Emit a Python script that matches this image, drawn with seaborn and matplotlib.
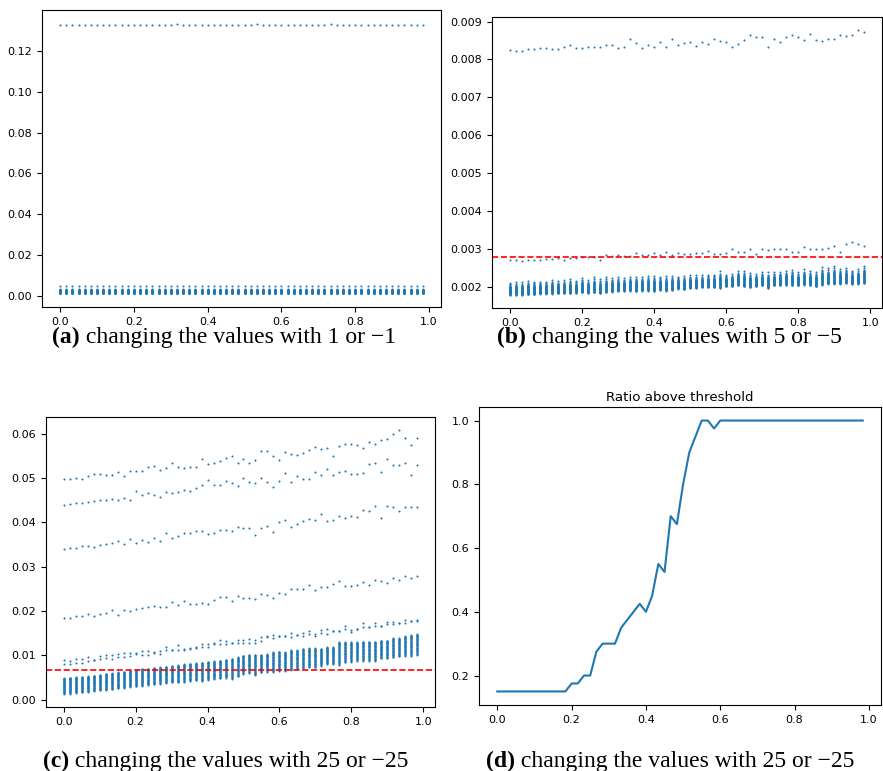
import numpy as np
import pandas as pd
import matplotlib
matplotlib.use("Agg")
import matplotlib.pyplot as plt
import seaborn as sns

# ---------------- data ----------------
n_steps = 60
steps = np.arange(n_steps) / n_steps  # x positions 0 .. 0.983

# panel (a): one high series, one at ~0.0048, and a flat cluster
a_top = [0.1328] * 19 + [0.1333] + [0.1328] * 12 + [0.1333] + [0.1328] * 11 + [0.1333] + [0.1328] * 15
a_levels = [0.0048,
            0.00130, 0.00135, 0.00140, 0.00145, 0.00150, 0.00155, 0.00160, 0.00165,
            0.00170, 0.00175, 0.00180, 0.00185, 0.00190, 0.00195, 0.00200, 0.00205,
            0.00210, 0.00215, 0.00220, 0.00225, 0.00230, 0.00235, 0.00240, 0.00245,
            0.00250, 0.00255, 0.00260, 0.00265, 0.00270, 0.00275, 0.00280, 0.00285,
            0.00290, 0.00295, 0.00300, 0.00310, 0.00320, 0.00330]

# panel (b)
b_top = [0.00824, 0.00823, 0.00823, 0.00828, 0.00828, 0.00830, 0.00830, 0.00828, 0.00828, 0.00832,
         0.00837, 0.00830, 0.00830, 0.00834, 0.00834, 0.00834, 0.00839, 0.00839, 0.00830, 0.00834,
         0.00854, 0.00843, 0.00830, 0.00837, 0.00834, 0.00845, 0.00832, 0.00855, 0.00839, 0.00843,
         0.00845, 0.00836, 0.00847, 0.00841, 0.00855, 0.00849, 0.00847, 0.00832, 0.00841, 0.00851,
         0.00864, 0.00860, 0.00858, 0.00834, 0.00854, 0.00845, 0.00858, 0.00864, 0.00858, 0.00851,
         0.00867, 0.00851, 0.00849, 0.00854, 0.00855, 0.00864, 0.00862, 0.00864, 0.00877, 0.00873]
b_second = [0.00270, 0.00272, 0.00268, 0.00272, 0.00271, 0.00271, 0.00273, 0.00273, 0.00275, 0.00270,
            0.00277, 0.00277, 0.00279, 0.00279, 0.00278, 0.00270, 0.00284, 0.00280, 0.00285, 0.00281,
            0.00280, 0.00289, 0.00285, 0.00285, 0.00290, 0.00285, 0.00292, 0.00285, 0.00288, 0.00287,
            0.00287, 0.00288, 0.00289, 0.00295, 0.00287, 0.00287, 0.00289, 0.00299, 0.00292, 0.00293,
            0.00299, 0.00287, 0.00299, 0.00297, 0.00299, 0.00299, 0.00300, 0.00291, 0.00293, 0.00305,
            0.00300, 0.00300, 0.00299, 0.00303, 0.00309, 0.00291, 0.00312, 0.00318, 0.00314, 0.00307]
b_cluster_low = [0.00179, 0.00179, 0.00179, 0.00180, 0.00180, 0.00182, 0.00182, 0.00182, 0.00183, 0.00183,
                 0.00183, 0.00184, 0.00185, 0.00184, 0.00185, 0.00183, 0.00186, 0.00187, 0.00189, 0.00189,
                 0.00190, 0.00188, 0.00190, 0.00190, 0.00189, 0.00192, 0.00190, 0.00192, 0.00195, 0.00193,
                 0.00197, 0.00197, 0.00199, 0.00199, 0.00199, 0.00197, 0.00201, 0.00201, 0.00204, 0.00201,
                 0.00199, 0.00201, 0.00204, 0.00197, 0.00204, 0.00204, 0.00205, 0.00204, 0.00204, 0.00206,
                 0.00204, 0.00201, 0.00206, 0.00208, 0.00208, 0.00208, 0.00210, 0.00208, 0.00208, 0.00210]
b_cluster_high = [0.00211, 0.00212, 0.00212, 0.00215, 0.00214, 0.00214, 0.00214, 0.00218, 0.00216, 0.00218,
                  0.00220, 0.00216, 0.00223, 0.00218, 0.00225, 0.00220, 0.00225, 0.00223, 0.00225, 0.00223,
                  0.00227, 0.00227, 0.00227, 0.00229, 0.00229, 0.00227, 0.00229, 0.00229, 0.00227, 0.00229,
                  0.00230, 0.00230, 0.00230, 0.00232, 0.00232, 0.00241, 0.00232, 0.00234, 0.00243, 0.00243,
                  0.00236, 0.00234, 0.00238, 0.00238, 0.00238, 0.00240, 0.00243, 0.00245, 0.00238, 0.00246,
                  0.00241, 0.00238, 0.00251, 0.00249, 0.00255, 0.00248, 0.00249, 0.00243, 0.00246, 0.00255]
b_cluster_pos = [0.00, 0.02, 0.04, 0.06, 0.08, 0.10, 0.12, 0.14, 0.16, 0.18, 0.20, 0.22, 0.24,
                 0.26, 0.28, 0.30, 0.32, 0.34, 0.36, 0.38, 0.40, 0.42, 0.44, 0.46, 0.48, 0.50,
                 0.52, 0.54, 0.56, 0.58, 0.60, 0.62, 0.65, 0.68, 0.72, 0.78, 0.86, 1.00]
b_threshold = 0.00278

# panel (c)
c_s1 = [0.0497, 0.0498, 0.0501, 0.0498, 0.0504, 0.0510, 0.0510, 0.0507, 0.0507, 0.0513,
        0.0504, 0.0515, 0.0515, 0.0515, 0.0525, 0.0528, 0.0519, 0.0522, 0.0533, 0.0524,
        0.0522, 0.0525, 0.0525, 0.0542, 0.0532, 0.0534, 0.0538, 0.0545, 0.0549, 0.0534,
        0.0543, 0.0533, 0.0540, 0.0560, 0.0560, 0.0549, 0.0541, 0.0559, 0.0555, 0.0551,
        0.0557, 0.0563, 0.0569, 0.0566, 0.0568, 0.0549, 0.0573, 0.0576, 0.0576, 0.0575,
        0.0567, 0.0582, 0.0576, 0.0585, 0.0589, 0.0599, 0.0608, 0.0591, 0.0575, 0.0591]
c_s2 = [0.0439, 0.0441, 0.0443, 0.0443, 0.0446, 0.0448, 0.0451, 0.0451, 0.0453, 0.0451,
        0.0455, 0.0450, 0.0471, 0.0462, 0.0466, 0.0462, 0.0458, 0.0468, 0.0466, 0.0469,
        0.0472, 0.0471, 0.0478, 0.0484, 0.0496, 0.0485, 0.0485, 0.0493, 0.0489, 0.0481,
        0.0501, 0.0491, 0.0489, 0.0501, 0.0492, 0.0480, 0.0494, 0.0512, 0.0492, 0.0504,
        0.0497, 0.0499, 0.0513, 0.0508, 0.0520, 0.0508, 0.0513, 0.0517, 0.0510, 0.0510,
        0.0512, 0.0531, 0.0533, 0.0513, 0.0542, 0.0529, 0.0529, 0.0534, 0.0506, 0.0529]
c_s3 = [0.0339, 0.0342, 0.0342, 0.0346, 0.0347, 0.0345, 0.0349, 0.0351, 0.0353, 0.0358,
        0.0351, 0.0362, 0.0353, 0.0360, 0.0356, 0.0364, 0.0358, 0.0376, 0.0365, 0.0370,
        0.0376, 0.0376, 0.0381, 0.0381, 0.0374, 0.0376, 0.0383, 0.0383, 0.0380, 0.0389,
        0.0387, 0.0388, 0.0372, 0.0388, 0.0392, 0.0379, 0.0401, 0.0406, 0.0389, 0.0397,
        0.0403, 0.0407, 0.0406, 0.0419, 0.0404, 0.0406, 0.0414, 0.0411, 0.0414, 0.0413,
        0.0428, 0.0425, 0.0436, 0.0411, 0.0437, 0.0435, 0.0425, 0.0434, 0.0434, 0.0434]
c_s4 = [0.0184, 0.0185, 0.0188, 0.0188, 0.0193, 0.0189, 0.0193, 0.0195, 0.0203, 0.0192,
        0.0202, 0.0200, 0.0204, 0.0207, 0.0210, 0.0212, 0.0209, 0.0209, 0.0220, 0.0214,
        0.0223, 0.0215, 0.0215, 0.0219, 0.0217, 0.0226, 0.0231, 0.0231, 0.0223, 0.0233,
        0.0229, 0.0229, 0.0227, 0.0238, 0.0237, 0.0229, 0.0240, 0.0238, 0.0250, 0.0249,
        0.0250, 0.0259, 0.0247, 0.0254, 0.0254, 0.0262, 0.0267, 0.0256, 0.0256, 0.0259,
        0.0265, 0.0259, 0.0271, 0.0268, 0.0263, 0.0274, 0.0270, 0.0280, 0.0275, 0.0280]
c_s5 = [0.0089, 0.0088, 0.0092, 0.0092, 0.0096, 0.0090, 0.0098, 0.0102, 0.0102, 0.0104,
        0.0105, 0.0106, 0.0105, 0.0109, 0.0109, 0.0107, 0.0110, 0.0119, 0.0113, 0.0123,
        0.0114, 0.0117, 0.0120, 0.0125, 0.0126, 0.0127, 0.0134, 0.0132, 0.0129, 0.0135,
        0.0135, 0.0136, 0.0135, 0.0141, 0.0143, 0.0147, 0.0144, 0.0144, 0.0150, 0.0146,
        0.0150, 0.0155, 0.0149, 0.0158, 0.0159, 0.0154, 0.0156, 0.0167, 0.0157, 0.0159,
        0.0172, 0.0165, 0.0172, 0.0167, 0.0175, 0.0176, 0.0173, 0.0179, 0.0177, 0.0180]
c_s6 = [0.0081, 0.0081, 0.0084, 0.0084, 0.0088, 0.0090, 0.0092, 0.0094, 0.0093, 0.0097,
        0.0097, 0.0099, 0.0104, 0.0102, 0.0102, 0.0106, 0.0104, 0.0112, 0.0112, 0.0112,
        0.0113, 0.0115, 0.0117, 0.0120, 0.0120, 0.0125, 0.0126, 0.0126, 0.0129, 0.0129,
        0.0129, 0.0129, 0.0129, 0.0133, 0.0142, 0.0140, 0.0143, 0.0143, 0.0141, 0.0146,
        0.0144, 0.0148, 0.0143, 0.0150, 0.0149, 0.0154, 0.0156, 0.0160, 0.0152, 0.0159,
        0.0165, 0.0164, 0.0167, 0.0166, 0.0170, 0.0170, 0.0173, 0.0172, 0.0177, 0.0178]
c_cluster_low = [0.00134, 0.00140, 0.00152, 0.00165, 0.00180, 0.00195, 0.00210, 0.00225, 0.00238, 0.00255,
                 0.00268, 0.00290, 0.00300, 0.00315, 0.00330, 0.00345, 0.00360, 0.00375, 0.00390, 0.00390,
                 0.00405, 0.00420, 0.00435, 0.00420, 0.00455, 0.00470, 0.00485, 0.00500, 0.00470, 0.00525,
                 0.00583, 0.00605, 0.00560, 0.00620, 0.00635, 0.00620, 0.00658, 0.00658, 0.00680, 0.00695,
                 0.00710, 0.00732, 0.00732, 0.00770, 0.00807, 0.00807, 0.00792, 0.00844, 0.00859, 0.00882,
                 0.00882, 0.00882, 0.00882, 0.00934, 0.00934, 0.00956, 0.00979, 0.00994, 0.00994, 0.01009]
c_cluster_high = [0.00486, 0.00501, 0.00508, 0.00516, 0.00531, 0.00546, 0.00561, 0.00583, 0.00598, 0.00620,
                  0.00635, 0.00650, 0.00680, 0.00690, 0.00705, 0.00720, 0.00735, 0.00750, 0.00760, 0.00775,
                  0.00800, 0.00815, 0.00825, 0.00840, 0.00855, 0.00865, 0.00880, 0.00900, 0.00920, 0.00960,
                  0.00994, 0.01009, 0.01009, 0.01009, 0.01023, 0.01068, 0.01083, 0.01068, 0.01113, 0.01113,
                  0.01143, 0.01158, 0.01158, 0.01143, 0.01181, 0.01181, 0.01293, 0.01293, 0.01293, 0.01293,
                  0.01308, 0.01308, 0.01308, 0.01330, 0.01330, 0.01382, 0.01382, 0.01427, 0.01457, 0.01480]
c_cluster_pos = [0.00, 0.04, 0.07, 0.10, 0.14, 0.17, 0.20, 0.23, 0.27, 0.30, 0.33, 0.36, 0.40, 0.43,
                 0.46, 0.49, 0.52, 0.55, 0.58, 0.61, 0.64, 0.67, 0.70, 0.73, 0.76, 0.79, 0.82, 0.85,
                 0.88, 0.91, 0.93, 0.96, 0.98, 1.00]
c_threshold = 0.0067

# panel (d)
d_ratio = [0.15, 0.15, 0.15, 0.15, 0.15, 0.15, 0.15, 0.15, 0.15, 0.15, 0.15, 0.15,
           0.175, 0.175, 0.2, 0.2, 0.275, 0.3, 0.3, 0.3, 0.35, 0.375, 0.4, 0.425,
           0.4, 0.45, 0.55, 0.525, 0.7, 0.675, 0.8, 0.9, 0.95, 1.0, 1.0, 0.975,
           1.0, 1.0, 1.0, 1.0, 1.0, 1.0, 1.0, 1.0, 1.0, 1.0, 1.0, 1.0,
           1.0, 1.0, 1.0, 1.0, 1.0, 1.0, 1.0, 1.0, 1.0, 1.0, 1.0, 1.0]

captions = [("(a)", "changing the values with 1 or \u22121"),
            ("(b)", "changing the values with 5 or \u22125"),
            ("(c)", "changing the values with 25 or \u221225"),
            ("(d)", "changing the values with 25 or \u221225")]


# ---------------- build long tables ----------------
def long_table(series_list):
    frames = []
    for k, vals in enumerate(series_list):
        frames.append(pd.DataFrame({"x": steps, "y": np.asarray(vals, float), "series": k}))
    return pd.concat(frames, ignore_index=True)


def cluster(low, high, pos):
    low = np.asarray(low)
    high = np.asarray(high)
    return [low + p * (high - low) for p in pos]


df_a = long_table([a_top] + [[lv] * n_steps for lv in a_levels])
df_b = long_table([b_top, b_second] + cluster(b_cluster_low, b_cluster_high, b_cluster_pos))
df_c = long_table([c_s1, c_s2, c_s3, c_s4, c_s5, c_s6] +
                  cluster(c_cluster_low, c_cluster_high, c_cluster_pos))
df_d = pd.DataFrame({"x": steps, "ratio": d_ratio})

# ---------------- figure ----------------
W, H = 883, 771
fig = plt.figure(figsize=(W / 100, H / 100), dpi=100)
blue = "#1f77b4"


def px_axes(left, top, right, bottom):
    return fig.add_axes([left / W, 1 - bottom / H, (right - left) / W, (bottom - top) / H])


ax_a = px_axes(42, 10, 441, 307)
ax_b = px_axes(492, 17, 882, 308)
ax_c = px_axes(46, 417, 435, 707)
ax_d = px_axes(479, 407, 881, 705)

for ax, df in [(ax_a, df_a), (ax_b, df_b), (ax_c, df_c)]:
    sns.scatterplot(data=df, x="x", y="y", ax=ax, s=2.2, linewidth=0, color=blue, legend=False)

ax_b.axhline(b_threshold, color="red", linestyle="--", linewidth=1.2)
ax_c.axhline(c_threshold, color="red", linestyle="--", linewidth=1.2)

sns.lineplot(data=df_d, x="x", y="ratio", ax=ax_d, color=blue, linewidth=1.5)
ax_d.set_title("Ratio above threshold", fontsize=9.6, pad=4)

for ax in [ax_a, ax_b, ax_c, ax_d]:
    ax.set_xlabel("")
    ax.set_ylabel("")
    ax.tick_params(labelsize=8)
    ax.set_xticks([0.0, 0.2, 0.4, 0.6, 0.8, 1.0])

# ---------------- captions ----------------
fig.canvas.draw()
renderer = fig.canvas.get_renderer()


def caption(xc, yc, label, text, size=17):
    t1 = fig.text(0, 0, label, fontweight="bold", family="Liberation Serif", size=size,
                  va="baseline", ha="left")
    t2 = fig.text(0, 0, " " + text, family="Liberation Serif", size=size,
                  va="baseline", ha="left")
    w1 = t1.get_window_extent(renderer).width
    w2 = t2.get_window_extent(renderer).width
    x0 = xc - (w1 + w2) / 2
    t1.set_position((x0 / W, 1 - yc / H))
    t2.set_position(((x0 + w1) / W, 1 - yc / H))


caption(224, 343, *captions[0])
caption(669, 343, *captions[1])
caption(226, 767, *captions[2])
caption(670, 767, *captions[3])

fig.savefig("out.png", dpi=100)
